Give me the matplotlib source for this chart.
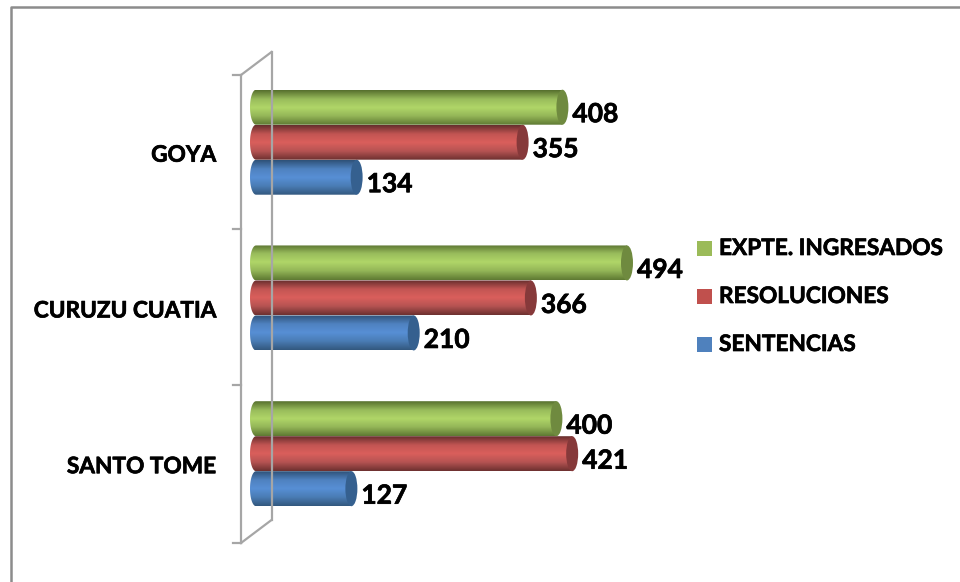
import numpy as np
import matplotlib
matplotlib.use("Agg")
import matplotlib.pyplot as plt
from matplotlib.patches import Ellipse, Rectangle
from matplotlib.path import Path
from matplotlib.colors import LinearSegmentedColormap
from matplotlib.lines import Line2D
import matplotlib.patheffects as pe

categories = ["SANTO TOME", "CURUZU CUATIA", "GOYA"]
sentencias = [127, 210, 134]
resoluciones = [421, 366, 355]
ingresados = [400, 494, 408]
series_names = ["SENTENCIAS", "RESOLUCIONES", "EXPTE. INGRESADOS"]

W, H = 960, 582
X0, XS = 256.0, 0.751
Y0, YS = 453.7, 155.75
BAND = 35.0 / YS
CAP = 6.0 / XS
LEFT = 0.0

GRAD = {
    "SENTENCIAS": (["#33587f", "#4a7cb4", "#578fd5", "#4f82c0", "#2f5279"], "#35608f", "#4f81bd"),
    "RESOLUCIONES": (["#6e3130", "#b55352", "#da5f5c", "#c25553", "#672e2d"], "#86393a", "#c0504d"),
    "EXPTE. INGRESADOS": (["#5f7a33", "#93b557", "#b0d668", "#98bb5b", "#57702e"], "#6f8a3f", "#9bbb59"),
}

fig = plt.figure(figsize=(W / 100, H / 100), dpi=100, facecolor="white")
ax = fig.add_axes([0, 0, 1, 1])
ax.axis("off")
font = "Lato"
bold = [pe.withStroke(linewidth=0.5, foreground="black")]

def line(xs, ys, color="#a6a6a6", lw=1.6):
    fig.add_artist(Line2D([x / W for x in xs], [1 - y / H for y in ys], color=color, lw=lw, zorder=1))

# outer frame: only the top and left edges fall inside the picture
line([960, 11, 11], [7, 7, 582], color="#8c8c8c", lw=1.8)
# 3D wall
line([241, 241], [75, 543]); line([271.5, 271.5], [52, 520])
line([241, 271.5], [75, 52]); line([241, 271.5], [543, 520])
for yy in [75, 229, 385, 543]:
    line([233, 241], [yy, yy])

cols = [(sentencias, "SENTENCIAS", -1), (resoluciones, "RESOLUCIONES", 0), (ingresados, "EXPTE. INGRESADOS", 1)]
for vals, name, off in cols:
    stops, capc, _ = GRAD[name]
    cm = LinearSegmentedColormap.from_list(name, stops)
    for i, v in enumerate(vals):
        yc = i + off * BAND
        ytop, ybot = yc + BAND / 2, yc - BAND / 2
        im = ax.imshow(np.linspace(0, 1, 64)[:, None], cmap=cm, aspect="auto", origin="lower",
                       extent=[LEFT - CAP, v, ybot, ytop], zorder=3 + 0.1 * off)
        t = np.linspace(np.pi / 2, 3 * np.pi / 2, 30)
        xs = np.r_[LEFT + CAP * np.cos(t), v, v, LEFT]
        ys = np.r_[yc + BAND / 2 * np.sin(t), ybot, ytop, ytop]
        im.set_clip_path(Path(np.c_[xs, ys]), ax.transData)
        ax.add_patch(Ellipse((v, yc), 2 * CAP, BAND, fc=capc, ec="none", zorder=3.05 + 0.1 * off))
        ax.text(v + CAP + 4 / XS, yc - 7 / YS, str(v), fontsize=19, fontweight="bold", family=font,
                color="black", ha="left", va="center", zorder=6, path_effects=bold)

ax.set_xlim(-X0 / XS, (W - X0) / XS)
ax.set_ylim((Y0 - H) / YS, Y0 / YS)

for i, c in enumerate(categories):
    ax.text(-39.5 / XS, i - 13 / YS, c, fontsize=16.3, fontweight="bold", family=font, ha="right", va="center",
            color="black", path_effects=bold)

legend_y = [344.5, 296.5, 248.5]
for name, ly in zip(series_names, legend_y):
    fc = GRAD[name][2]
    fig.add_artist(Rectangle((697 / W, 1 - (ly + 7.5) / H), 15 / W, 15 / H, transform=fig.transFigure, fc=fc, ec="none"))
    fig.text(719 / W, 1 - ly / H, name, fontsize=16.3, fontweight="bold", family=font, ha="left", va="center",
             color="black", path_effects=bold)

fig.savefig("out.png", dpi=100)
